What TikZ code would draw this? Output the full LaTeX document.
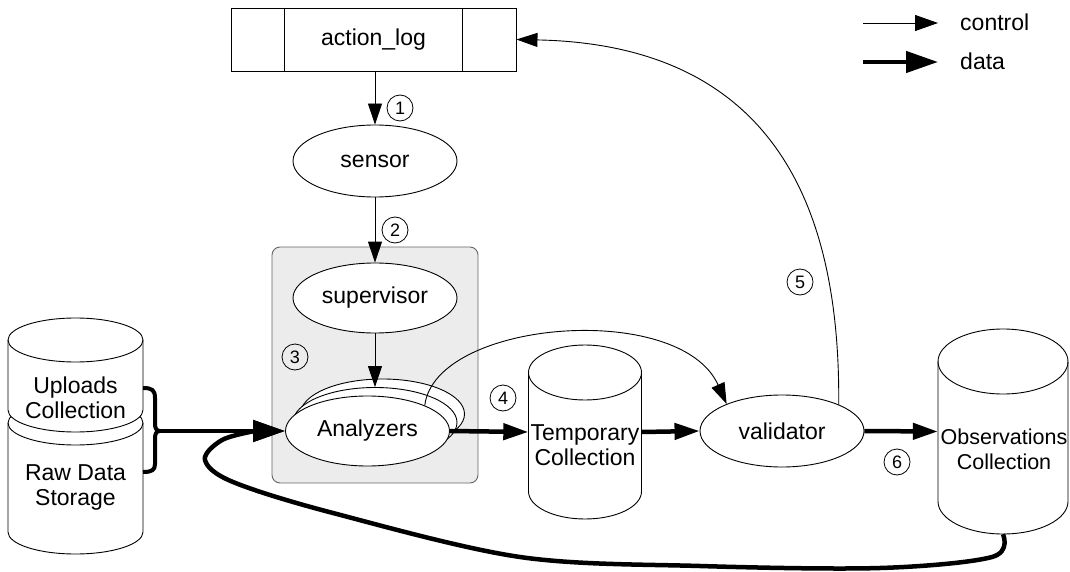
\documentclass[tikz,border=0pt]{standalone}
\usepackage{fontspec}
\setmainfont{Liberation Sans}
\usetikzlibrary{arrows.meta,calc,shapes.geometric}

% cylinder outline: centre x, top y, bottom y, x radius, y radius
\newcommand\cylbody[5]{%
  \filldraw[fill=white, line width=0.9pt]
    ({#1-#4},{#2-#5}) -- ({#1-#4},{#3+#5})
    arc[start angle=180, end angle=360, x radius=#4, y radius=#5]
    -- ({#1+#4},{#2-#5})
    arc[start angle=0, end angle=180, x radius=#4, y radius=#5] -- cycle;
  \draw[line width=0.9pt] ({#1-#4},{#2-#5})
    arc[start angle=180, end angle=360, x radius=#4, y radius=#5];
}

\definecolor{panel}{HTML}{ECECEC}

\begin{document}
\begin{tikzpicture}[x=1pt, y=1pt,
  base/.style={font=\fontsize{23}{25}\selectfont, align=center, inner sep=0pt},
  oval/.style={base, ellipse, draw, fill=white, line width=0.9pt,
    minimum width=164pt, minimum height=71pt},
  body/.style={minimum width=#1, inner sep=0pt},
  num/.style={circle, draw, line width=0.8pt, minimum size=26pt, inner sep=0pt,
    font=\fontsize{18}{18}\selectfont},
  ctrl/.style={line width=0.9pt, -{Triangle[length=21pt, width=14pt]}},
  data/.style={line width=4.5pt, -{Triangle[length=25pt, width=16pt]}},
  bighead/.style={-{Triangle[length=32pt, width=21pt]}}
]
\useasboundingbox (0,0) rectangle (1070,-572);

% processing panel
\node[draw=black!60, fill=panel, line width=0.9pt, rounded corners=8pt,
      minimum width=206pt, minimum height=236pt] (core) at (375,-365) {};

% queue
\node[base, draw, fill=white, line width=0.9pt, minimum width=285pt,
      minimum height=63pt] (al) at (373.5,-39.5) {action\_log};
\draw[line width=0.9pt] ([xshift=54pt]al.south west) -- ([xshift=54pt]al.north west);
\draw[line width=0.9pt] ([xshift=-54pt]al.south east) -- ([xshift=-54pt]al.north east);

% processes
\node[oval, minimum height=72pt] (sensor) at (375,-161) {sensor};
\node[oval, minimum height=70pt] (sup) at (375,-298) {supervisor};
\node[oval, minimum height=70pt] (ana3) at (382.5,-414) {};
\node[oval, minimum height=70pt] (ana2) at (375,-422.5) {};
\node[oval, minimum height=70pt] (ana) at (367.5,-431) {Analyzers};
\node[oval, minimum height=72pt] (val) at (782,-431) {validator};

% storages
\cylbody{75.5}{-401}{-554}{67.5}{22}
\cylbody{75.5}{-318}{-432}{67.5}{22}
\cylbody{585}{-345}{-519}{56.5}{27.5}
\cylbody{1003}{-329}{-534}{65}{32.5}
\node[body=135pt, minimum height=114pt] (upl) at (75.5,-375) {};
\node[body=135pt, minimum height=153pt] (raw) at (75.5,-477.5) {};
\node[body=113pt, minimum height=174pt] (tmp) at (585,-432) {};
\node[body=130pt, minimum height=205pt] (obs) at (1003,-431.5) {};
\node[base] (upltext) at (75.5,-398) {Uploads\\Collection};
\node[base] (rawtext) at (75.5,-487) {Raw Data\\Storage};
\node[base] (tmptext) at (585,-445) {Temporary\\Collection};
\node[base, font=\fontsize{21.5}{25}\selectfont] (obstext) at (1004,-449.5) {Observations\\Collection};

% brace joining the two storages
\coordinate (bt) at (160,-431);
\draw[line width=4pt, line join=round]
  (143,-388) .. controls (152,-388) and (155,-390) .. (155,-398)
  -- (155,-423) .. controls (155,-428) and (156,-431) .. (bt)
  .. controls (156,-431) and (155,-434) .. (155,-439)
  -- (155,-464) .. controls (155,-470) and (152,-472) .. (143,-472);

% control flow
\draw[ctrl] (sensor.north |- al.south) -- (sensor.north);
\draw[ctrl] (sensor.south) -- (sup.north);
\draw[ctrl] (sup.south) -- (sup.south |- ana2.north);
\draw[ctrl] (ana.24) .. controls (435,-320) and (680,-300) .. (val.154);
\draw[ctrl] (val.25) .. controls (840,-230) and (790,-45) .. (al.east);

% data flow
\draw[data, bighead] plot[smooth, tension=0.55] coordinates {(obs.south) (992,-557)
  (880,-568) (700,-566) (520,-557) (333,-513) (233,-482) (205,-460) (222,-440)
  (255,-431)} -- (ana.west);
\draw[data, bighead] (bt) -- (ana.west);
\draw[data] (ana.east) -- (tmp.west);
\draw[data] (tmp.east) -- (val.west);
\draw[data] (val.east) -- (obs.west);

% step numbers
\node[num] (n1) at (400,-108) {1};
\node[num] (n2) at (395,-230) {2};
\node[num] (n3) at (295,-357) {3};
\node[num] (n4) at (503,-398) {4};
\node[num] (n5) at (800,-282) {5};
\node[num] (n6) at (897,-462) {6};

% legend
\coordinate (lc1) at (863,-23);
\coordinate (lc2) at (938,-23);
\coordinate (ld1) at (863,-62);
\coordinate (ld2) at (938,-62);
\draw[ctrl, -{Triangle[length=23pt, width=16pt]}] (lc1) -- (lc2);
\draw[data, bighead] (ld1) -- (ld2);
\node[base, anchor=west] (lctrl) at (960,-22) {control};
\node[base, anchor=west] (ldata) at (960,-61) {data};
\end{tikzpicture}
\end{document}
